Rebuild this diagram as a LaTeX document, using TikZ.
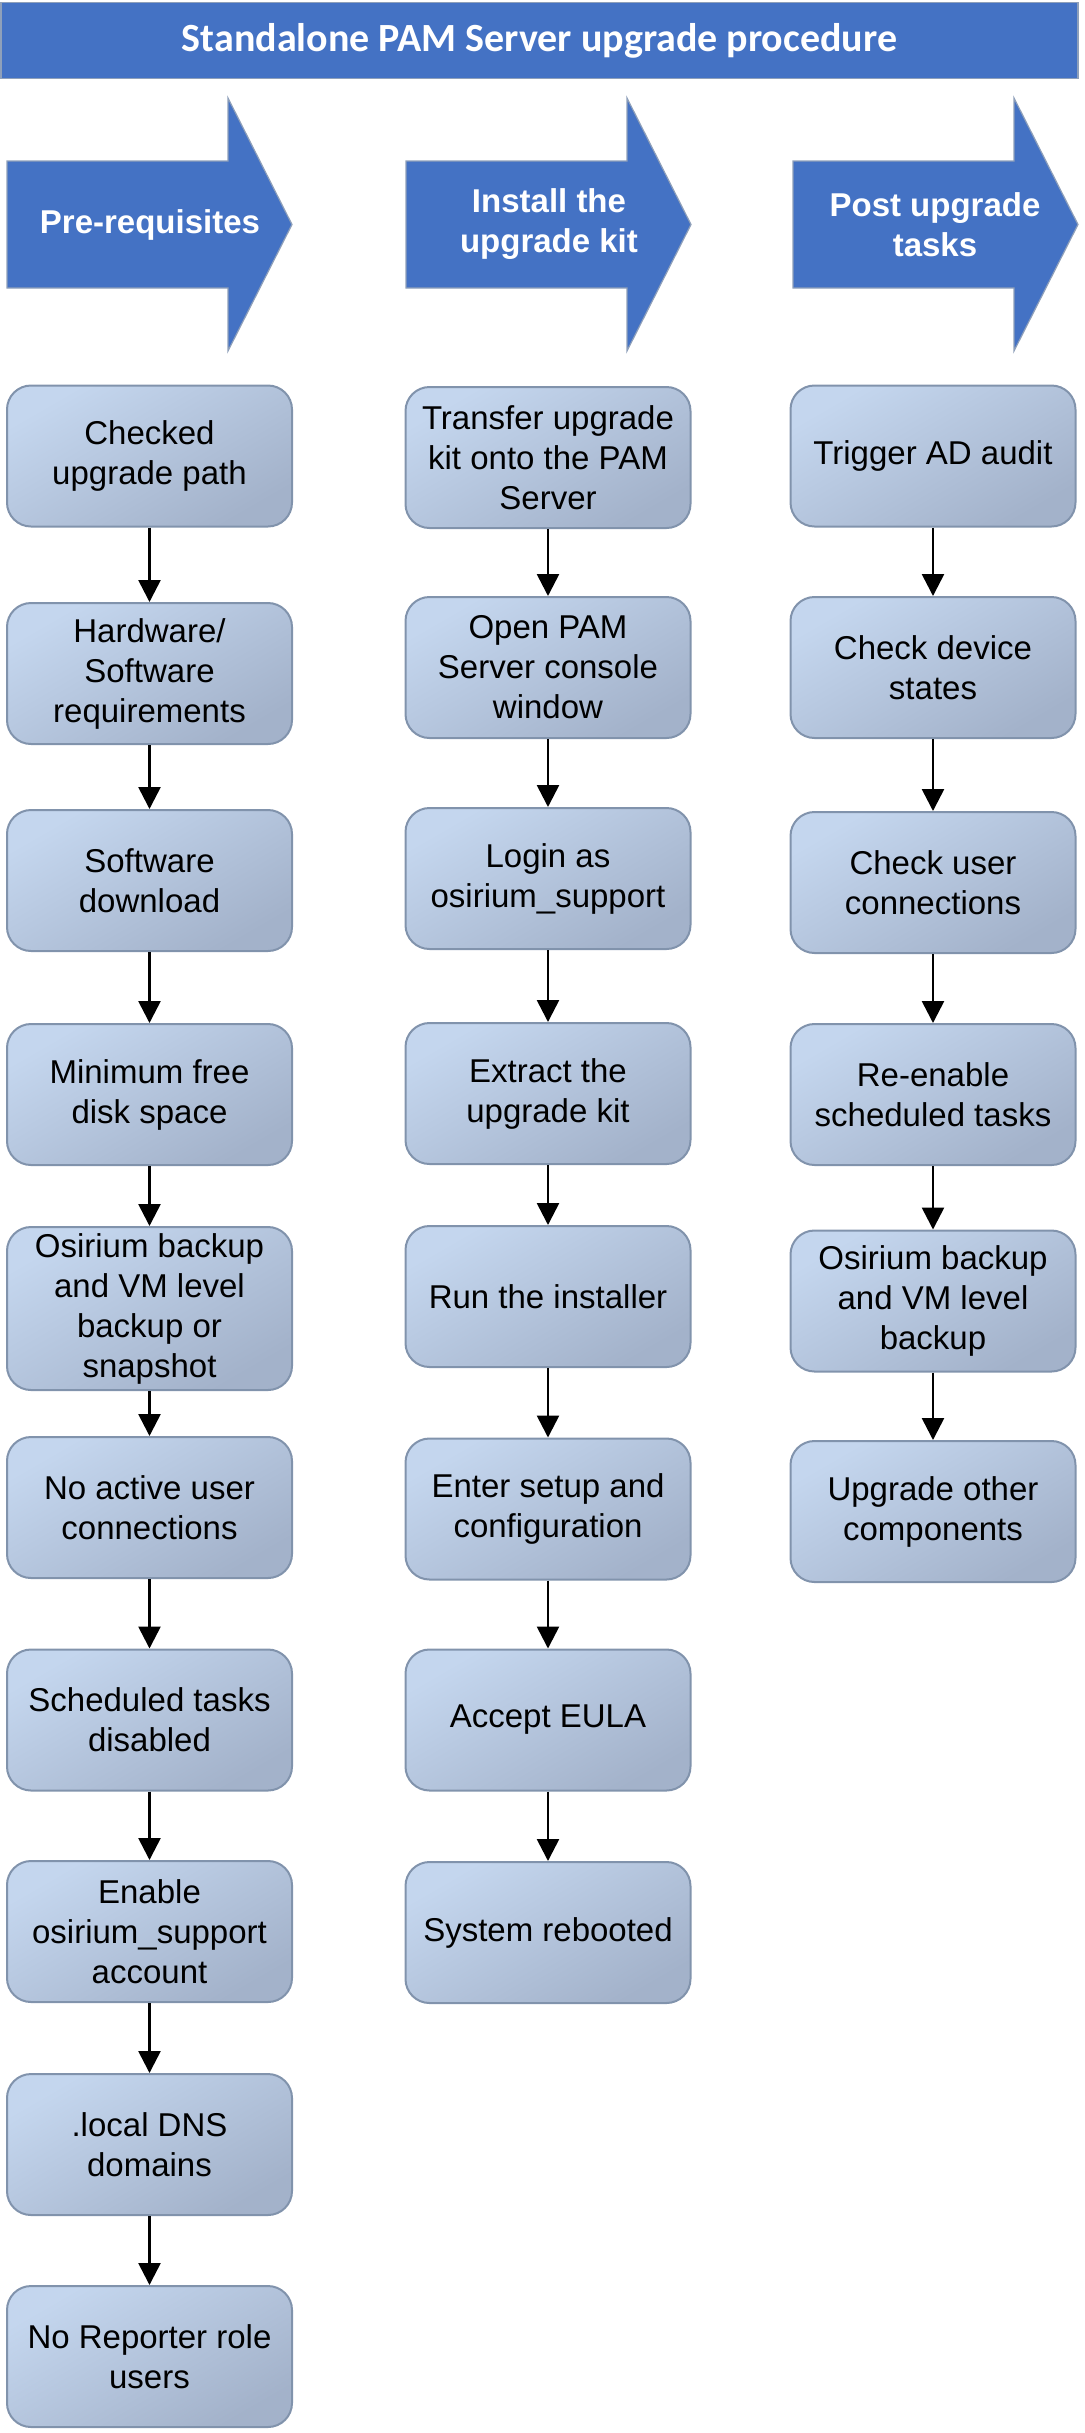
\documentclass[tikz,border=0pt]{standalone}
\usepackage{fontspec}
\setmainfont{Liberation Sans}
\newfontfamily\titlefont{Carlito}
\usepackage{xcolor}
\usetikzlibrary{arrows.meta,positioning}
\definecolor{hdrblue}{HTML}{4472C4}
\definecolor{hdrline}{HTML}{8FA0BA}
\definecolor{boxtop}{HTML}{C4D6EE}
\definecolor{boxbot}{HTML}{A3B2CA}
\definecolor{boxline}{HTML}{8193AC}

\begin{document}
\begin{tikzpicture}[
  x=0.5pt, y=-0.5pt,
  txt/.style={font=\fontsize{16.5pt}{20pt}\selectfont, align=center},
  stepbox/.style={txt, draw=boxline, line width=1pt, rounded corners=12pt,
    top color=boxtop, bottom color=boxbot, shading angle=30,
    minimum width=142.5pt, minimum height=70.5pt, inner sep=2pt},
  phase/.style={fill=hdrblue, draw=hdrline, line width=0.6pt},
  phaselbl/.style={txt, font=\fontsize{16.5pt}{20pt}\selectfont\bfseries, text=white},
  titlebar/.style={fill=hdrblue, draw=hdrline, line width=0.6pt, text=white,
    font=\titlefont\fontsize{20pt}{24pt}\selectfont\bfseries,
    minimum width=538.5pt, minimum height=38pt},
  flow/.style={-{Triangle[length=11pt,width=11pt]}, line width=1.3pt}
]
\useasboundingbox (0,0) rectangle (1084,2433);
% --- title ---
\node[titlebar] (title) at (539.5,40.5) {Standalone PAM Server upgrade procedure};
% --- phase arrows ---
\draw[phase] (7,161) -- (228,161) -- (228,98) -- (292,224.5) -- (228,351) -- (228,288) -- (7,288) -- cycle;
\draw[phase] (406,161) -- (627,161) -- (627,98) -- (691,224.5) -- (627,351) -- (627,288) -- (406,288) -- cycle;
\draw[phase] (793,161) -- (1014,161) -- (1014,98) -- (1078,224.5) -- (1014,351) -- (1014,288) -- (793,288) -- cycle;
\node[phaselbl] (prq) at (150,224.5) {Pre-requisites};
\node[phaselbl] (ins) at (549,224.5) {Install the\\upgrade kit};
\node[phaselbl] (pst) at (935,224.5) {Post upgrade\\tasks};
% --- pre-requisites column ---
\node[stepbox] (pre1)  at (149.5,456)    {Checked\\upgrade path};
\node[stepbox] (pre2)  at (149.5,673.5)  {Hardware/\\Software\\requirements};
\node[stepbox] (pre3)  at (149.5,880.5)  {Software\\download};
\node[stepbox] (pre4)  at (149.5,1094.5) {Minimum free\\disk space};
\node[stepbox, minimum height=81.5pt] (pre5) at (149.5,1308.5) {Osirium backup\\and VM level\\backup or\\snapshot};
\node[stepbox] (pre6)  at (149.5,1507.5) {No active user\\connections};
\node[stepbox] (pre7)  at (149.5,1720)   {Scheduled tasks\\disabled};
\node[stepbox] (pre8)  at (149.5,1931.5) {Enable\\osirium\_support\\account};
\node[stepbox] (pre9)  at (149.5,2144.5) {.local DNS\\domains};
\node[stepbox] (pre10) at (149.5,2356.5) {No Reporter role\\users};
% --- install column ---
\node[stepbox] (inst1) at (548,457.5)  {Transfer upgrade\\kit onto the PAM\\Server};
\node[stepbox] (inst2) at (548,667.5)  {Open PAM\\Server console\\window};
\node[stepbox] (inst3) at (548,878.5)  {Login as\\osirium\_support};
\node[stepbox] (inst4) at (548,1093.5) {Extract the\\upgrade kit};
\node[stepbox] (inst5) at (548,1296.5) {Run the installer};
\node[stepbox] (inst6) at (548,1509)   {Enter setup and\\configuration};
\node[stepbox] (inst7) at (548,1720)   {Accept EULA};
\node[stepbox] (inst8) at (548,1932.5) {System rebooted};
% --- post upgrade column ---
\node[stepbox] (post1) at (933,456)    {Trigger AD audit};
\node[stepbox] (post2) at (933,667.5)  {Check device\\states};
\node[stepbox] (post3) at (933,882.5)  {Check user\\connections};
\node[stepbox] (post4) at (933,1094.5) {Re-enable\\scheduled tasks};
\node[stepbox] (post5) at (933,1301)   {Osirium backup\\and VM level\\backup};
\node[stepbox] (post6) at (933,1511.5) {Upgrade other\\components};
% --- connectors ---
\draw[flow] (pre1) -- (pre2);
\draw[flow] (pre2) -- (pre3);
\draw[flow] (pre3) -- (pre4);
\draw[flow] (pre4) -- (pre5);
\draw[flow] (pre5) -- (pre6);
\draw[flow] (pre6) -- (pre7);
\draw[flow] (pre7) -- (pre8);
\draw[flow] (pre8) -- (pre9);
\draw[flow] (pre9) -- (pre10);
\draw[flow] (inst1) -- (inst2);
\draw[flow] (inst2) -- (inst3);
\draw[flow] (inst3) -- (inst4);
\draw[flow] (inst4) -- (inst5);
\draw[flow] (inst5) -- (inst6);
\draw[flow] (inst6) -- (inst7);
\draw[flow] (inst7) -- (inst8);
\draw[flow] (post1) -- (post2);
\draw[flow] (post2) -- (post3);
\draw[flow] (post3) -- (post4);
\draw[flow] (post4) -- (post5);
\draw[flow] (post5) -- (post6);
\end{tikzpicture}
\end{document}
